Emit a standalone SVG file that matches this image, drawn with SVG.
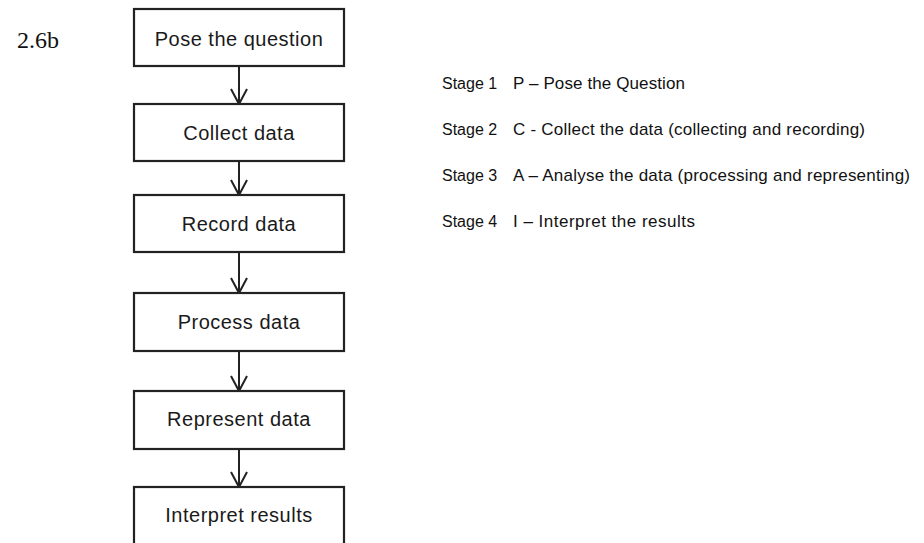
<svg xmlns="http://www.w3.org/2000/svg" width="924" height="543" viewBox="0 0 924 543">
<style>
.box{fill:#fff;stroke:#222;stroke-width:2.2}
.lbl{font-family:"Liberation Sans",Arial,sans-serif;font-size:20px;letter-spacing:0.5px;fill:#1a1a1a;text-anchor:middle}
.conn line{stroke:#222;stroke-width:2}
.conn polyline{fill:none;stroke:#222;stroke-width:2}
.stage{font-family:"Liberation Sans",Arial,sans-serif;font-size:17px;fill:#111}
.stn{font-size:16px}
.fig{font-family:"Liberation Serif","Times New Roman",serif;font-size:24px;fill:#111}
</style>
<rect width="924" height="543" fill="#fff"/>
<text class="fig" x="17" y="48">2.6b</text>
<g id="connectors" class="conn">
<line x1="239" y1="66" x2="239" y2="104"/><polyline points="231,89 239,104 247,89"/>
<line x1="239" y1="161" x2="239" y2="195"/><polyline points="231,180 239,195 247,180"/>
<line x1="239" y1="252" x2="239" y2="293"/><polyline points="231,278 239,293 247,278"/>
<line x1="239" y1="351" x2="239" y2="391"/><polyline points="231,376 239,391 247,376"/>
<line x1="239" y1="449" x2="239" y2="487"/><polyline points="231,472 239,487 247,472"/>
</g>
<g id="n1"><rect class="box" x="134" y="9" width="210" height="57"/><text class="lbl" x="239" y="46">Pose the question</text></g>
<g id="n2"><rect class="box" x="134" y="104" width="210" height="57"/><text class="lbl" x="239" y="140">Collect data</text></g>
<g id="n3"><rect class="box" x="134" y="195" width="210" height="57"/><text class="lbl" x="239" y="231">Record data</text></g>
<g id="n4"><rect class="box" x="134" y="293" width="210" height="58"/><text class="lbl" x="239" y="329">Process data</text></g>
<g id="n5"><rect class="box" x="134" y="391" width="210" height="58"/><text class="lbl" x="239" y="426">Represent data</text></g>
<g id="n6"><rect class="box" x="134" y="487" width="210" height="58"/><text class="lbl" x="239" y="522">Interpret results</text></g>
<g id="stages">
<text class="stage stn" x="442" y="89">Stage 1</text><text class="stage" x="513" y="89" textLength="172">P – Pose the Question</text>
<text class="stage stn" x="442" y="135">Stage 2</text><text class="stage" x="513" y="135" textLength="352">C - Collect the data (collecting and recording)</text>
<text class="stage stn" x="442" y="181">Stage 3</text><text class="stage" x="513" y="181" textLength="397">A – Analyse the data (processing and representing)</text>
<text class="stage stn" x="442" y="227">Stage 4</text><text class="stage" x="513" y="227" textLength="182">I – Interpret the results</text>
</g>
</svg>
